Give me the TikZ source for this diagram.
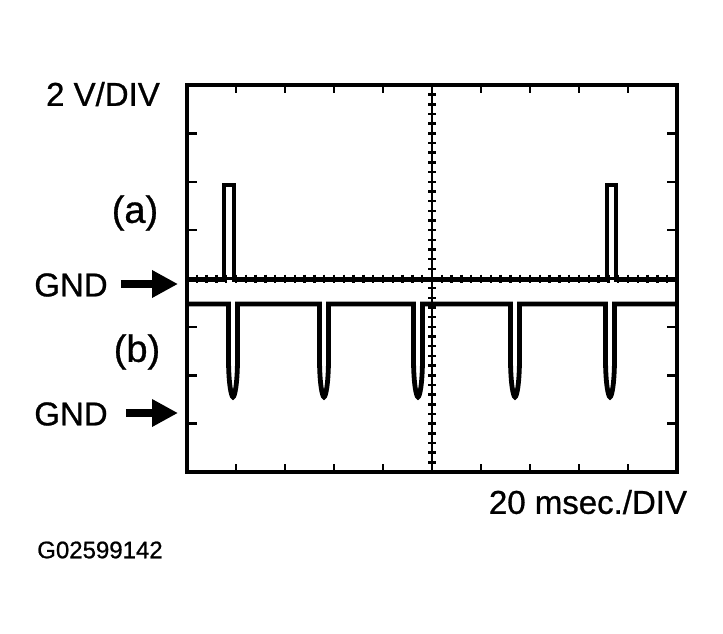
\documentclass[tikz,border=0pt]{standalone}
\usepackage{fontspec}
\setmainfont{Liberation Sans}[FakeBold=0.8]
\usetikzlibrary{arrows.meta}
\tikzset{frame/.style={draw,line width=4pt},
         grat/.style={line width=2.5pt},
         tick/.style={line width=2.5pt},
         trace/.style={line width=4.8pt,line join=miter},
         gndarrow/.style={line width=8pt,-{Triangle[length=26pt,width=26pt]}},
         lbl/.style={inner sep=0pt,font=\fontsize{33}{33}\selectfont},
         chan/.style={inner sep=0pt,font=\fontsize{38}{38}\selectfont},
         code/.style={inner sep=0pt,font=\fontsize{24}{24}\selectfont},
        }

\begin{document}
\begin{tikzpicture}[x=1pt,y=-1pt]
        \useasboundingbox (0,0) rectangle (723,634);

        % screen
        \draw[frame](187,85)rectangle(677,472);
        \foreach \i in {1,...,9}{
            \draw[tick](187+49*\i,85)--++(0,8);
            \draw[tick](187+49*\i,472)--++(0,-8);
        }
        \foreach \j in {1,...,7}{
            \draw[tick](187,85+48.375*\j)--++(10,0);
            \draw[tick](677,85+48.375*\j)--++(-10,0);
        }
        \draw[grat](432,85)--(432,472);
        \draw[grat](187,278.5)--(677,278.5);
        \foreach \k in {1,...,49}
            \draw[tick](187+9.8*\k,274.5)--++(0,8);
        \foreach \k in {1,...,39}
            \draw[tick](428,85+9.675*\k)--++(8,0);

        % traces
        \draw[trace](187,280)--(224,280)--(224,185)--(234,185)--(234,280)
            --(607,280)--(607,185)--(616,185)--(616,280)--(677,280);
        \draw[trace](187,304)
            \foreach \s in {233,324,418,515,610}{
                --(\s-4.5,304)--(\s-4.5,358)
                ..controls(\s-4.5,385)and(\s-1.5,397)..(\s,397)
                ..controls(\s+1.5,397)and(\s+4.5,385)..(\s+4.5,358)
                --(\s+4.5,304)}
            --(677,304);

        % labels
        \node[lbl](vdiv)at(103,94){2 V/DIV};
        \node[lbl](tdiv)at(588,502){20 msec./DIV};
        \node[code](fig)at(100,550){G02599142};
        \node[chan](cha)at(135,213){(a)};
        \node[chan](chb)at(137,352){(b)};
        \node[lbl](gnda)at(71,285){GND};
        \node[lbl](gndb)at(71,414){GND};
        \coordinate(gndatip)at(178,284);
        \coordinate(gndbtip)at(178,413);

        \draw[gndarrow](gnda.east)++(13,-1)coordinate(gndatail)--(gndatip);
        \draw[gndarrow](gndb.east)++(18,-1)coordinate(gndbtail)--(gndbtip);
    \end{tikzpicture}
\end{document}
